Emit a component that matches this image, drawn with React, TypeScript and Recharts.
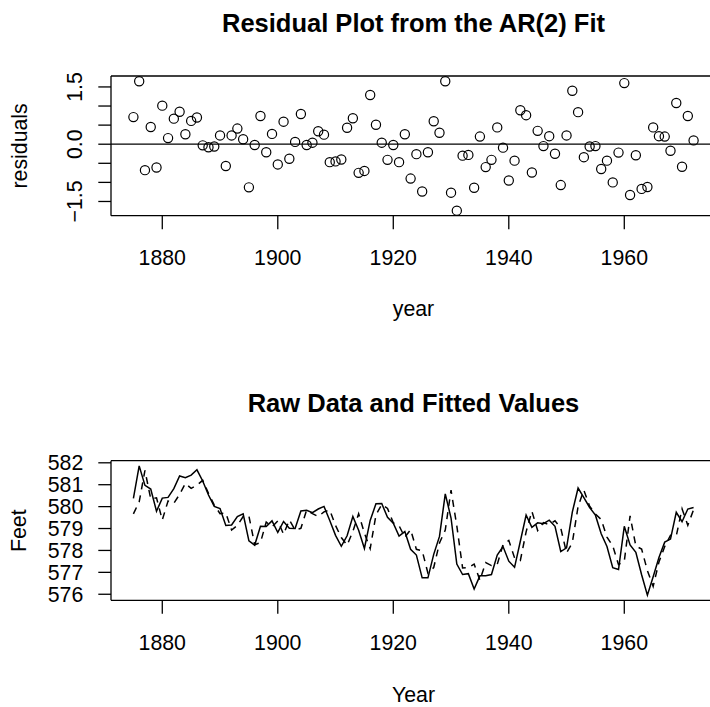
import React from 'react';
import { ScatterChart, Scatter, LineChart, Line, XAxis, YAxis, ReferenceLine, Label } from 'recharts';

// Lake Huron levels 1875-1972, residuals of the AR(2) fit and the fitted values
const years = [
  1875, 1876, 1877, 1878, 1879, 1880, 1881, 1882, 1883, 1884, 1885, 1886, 1887, 1888, 1889,
  1890, 1891, 1892, 1893, 1894, 1895, 1896, 1897, 1898, 1899, 1900, 1901, 1902, 1903, 1904,
  1905, 1906, 1907, 1908, 1909, 1910, 1911, 1912, 1913, 1914, 1915, 1916, 1917, 1918, 1919,
  1920, 1921, 1922, 1923, 1924, 1925, 1926, 1927, 1928, 1929, 1930, 1931, 1932, 1933, 1934,
  1935, 1936, 1937, 1938, 1939, 1940, 1941, 1942, 1943, 1944, 1945, 1946, 1947, 1948, 1949,
  1950, 1951, 1952, 1953, 1954, 1955, 1956, 1957, 1958, 1959, 1960, 1961, 1962, 1963, 1964,
  1965, 1966, 1967, 1968, 1969, 1970, 1971, 1972,
];

const lakeLevel = [
  580.38, 581.86, 580.97, 580.8, 579.79, 580.39, 580.42, 580.82, 581.4, 581.32, 581.44, 581.68, 581.17, 580.53, 580.01,
  579.91, 579.14, 579.16, 579.55, 579.67, 578.44, 578.24, 579.1, 579.09, 579.35, 578.82, 579.32, 579.01, 579.0, 579.8,
  579.83, 579.72, 579.89, 580.01, 579.37, 578.69, 578.19, 578.67, 579.55, 578.92, 578.09, 579.37, 580.13, 580.14, 579.51,
  579.24, 578.66, 578.86, 578.05, 577.79, 576.75, 576.75, 577.82, 578.64, 580.58, 579.48, 577.38, 576.9, 576.94, 576.24,
  576.84, 576.85, 576.9, 577.79, 578.18, 577.51, 577.23, 578.42, 579.61, 579.05, 579.26, 579.22, 579.38, 579.1, 577.95,
  578.12, 579.75, 580.85, 580.41, 579.96, 579.61, 578.76, 578.18, 577.21, 577.13, 579.1, 578.25, 577.91, 576.89, 575.96,
  576.8, 577.68, 578.38, 578.52, 579.74, 579.31, 579.89, 579.96,
];

const residuals = [
  0.71, 1.65, -0.68, 0.45, -0.61, 1.01, 0.16, 0.67, 0.85, 0.26, 0.61, 0.7, -0.03, -0.08, -0.06,
  0.23, -0.57, 0.23, 0.41, 0.13, -1.13, -0.02, 0.74, -0.21, 0.27, -0.53, 0.59, -0.38, 0.06, 0.79,
  -0.02, 0.04, 0.34, 0.25, -0.47, -0.45, -0.4, 0.43, 0.68, -0.75, -0.7, 1.29, 0.51, 0.04, -0.41,
  -0.02, -0.47, 0.26, -0.9, -0.26, -1.24, -0.21, 0.6, 0.3, 1.65, -1.27, -1.74, -0.3, -0.28, -1.14,
  0.2, -0.6, -0.41, 0.44, -0.09, -0.95, -0.43, 0.89, 0.76, -0.74, 0.35, -0.05, 0.21, -0.25, -1.07,
  0.23, 1.4, 0.84, -0.34, -0.06, -0.05, -0.65, -0.43, -1.0, -0.22, 1.6, -1.33, -0.29, -1.17, -1.12,
  0.44, 0.21, 0.2, -0.17, 1.08, -0.59, 0.74, 0.1,
];

const fittedLevel = [
  579.67, 580.22, 581.65, 580.35, 580.4, 579.39, 580.26, 580.15, 580.56, 581.06, 580.83, 580.98, 581.2, 580.61, 580.07,
  579.68, 579.71, 578.93, 579.14, 579.55, 579.57, 578.26, 578.36, 579.3, 579.08, 579.35, 578.74, 579.39, 578.94, 579.01,
  579.85, 579.68, 579.55, 579.76, 579.84, 579.14, 578.59, 578.24, 578.87, 579.67, 578.79, 578.08, 579.62, 580.1, 579.92,
  579.26, 579.13, 578.6, 578.95, 578.05, 577.99, 576.96, 577.22, 578.34, 578.93, 580.75, 579.12, 577.2, 577.22, 577.38,
  576.64, 577.45, 577.31, 577.36, 578.27, 578.46, 577.66, 577.54, 578.85, 579.79, 578.91, 579.27, 579.18, 579.35, 579.02,
  577.89, 578.35, 580.01, 580.75, 580.02, 579.66, 579.41, 578.61, 578.21, 577.35, 577.51, 579.58, 578.2, 578.06, 577.08,
  576.36, 577.47, 578.18, 578.69, 578.66, 579.9, 579.15, 579.86,
];

const yearTicks = [1880, 1900, 1920, 1940, 1960];
const residTicks = [-1.5, -1, -0.5, 0, 0.5, 1, 1.5];
const residTickLabels = ['\u22121.5', '', '', '0.0', '', '', '1.5'];
const feetTicks = [576, 577, 578, 579, 580, 581, 582];

const FONT = '"Liberation Sans", Arial, Helvetica, sans-serif';
const AXIS_FS = 21.3;
const TITLE_FS = 25.5;
const PLOT_CX = 413.5;
const YEAR_DOMAIN = [1871.12, 1975.88];
const RESID_DOMAIN = [-1.8725, 1.7865];
const FEET_DOMAIN = [575.724, 582.096];

const residData = years.map((year, i) => ({ year, resid: residuals[i] }));
const levelData = years.map((year, i) => ({ year, raw: lakeLevel[i], fitted: fittedLevel[i] }));

const xTick = { fill: '#000', fontSize: AXIS_FS, fontFamily: FONT };
const tickLine = { stroke: '#000', strokeWidth: 1.3 };

const ResidTick = (props: any) => {
  const { y, payload } = props;
  const label = residTickLabels[residTicks.indexOf(payload.value)];
  if (!label) return <g />;
  return (
    <text
      x={81.7}
      y={y}
      transform={`rotate(-90, 81.7, ${y})`}
      textAnchor="middle"
      fill="#000"
      fontSize={AXIS_FS}
      fontFamily={FONT}
    >
      {label}
    </text>
  );
};

const Circle = (props: any) => (
  <circle cx={props.cx} cy={props.cy} r={4.6} fill="none" stroke="#000" strokeWidth={1.2} />
);

const title = (text: string, y: number) => () => (
  <text x={PLOT_CX} y={y} textAnchor="middle" fontSize={TITLE_FS} fontWeight="bold" fontFamily={FONT} fill="#000">
    {text}
  </text>
);

const xTitle = (text: string, y: number) => () => (
  <text x={PLOT_CX} y={y} textAnchor="middle" fontSize={AXIS_FS} fontFamily={FONT} fill="#000">
    {text}
  </text>
);

const yTitle = (text: string, x: number, y: number) => () => (
  <text x={x} y={y} transform={`rotate(-90, ${x}, ${y})`} textAnchor="middle" fontSize={AXIS_FS} fontFamily={FONT} fill="#000">
    {text}
  </text>
);

export default function App() {
  return (
    <div style={{ position: 'absolute', left: 0, top: 0, width: 710, height: 707, overflow: 'hidden', background: '#fff' }}>
      <div style={{ position: 'absolute', left: 0, top: 0 }}>
        <ScatterChart width={730} height={340} margin={{ top: 76, right: 14, bottom: 0, left: 0 }}>
          <XAxis
            dataKey="year"
            type="number"
            domain={YEAR_DOMAIN}
            allowDataOverflow
            ticks={yearTicks}
            interval={0}
            height={124.3}
            tickSize={13.5}
            tickMargin={20.7}
            stroke="#000"
            strokeWidth={1.3}
            tick={xTick}
            tickLine={tickLine}
          >
            <Label content={xTitle('year', 315.5)} />
          </XAxis>
          <YAxis
            dataKey="resid"
            type="number"
            domain={RESID_DOMAIN}
            allowDataOverflow
            ticks={residTicks}
            interval={0}
            width={111}
            tickSize={12.7}
            stroke="#000"
            strokeWidth={1.3}
            tick={ResidTick}
            tickLine={tickLine}
          >
            <Label content={yTitle('residuals', 26.7, 145.9)} />
          </YAxis>
          {/* top edge of the plot box, carries the panel title */}
          <ReferenceLine y={RESID_DOMAIN[1]} stroke="#000" strokeWidth={1.3}>
            <Label content={title('Residual Plot from the AR(2) Fit', 31.6)} />
          </ReferenceLine>
          <ReferenceLine y={0} stroke="#000" strokeWidth={1.3} />
          <Scatter data={residData} dataKey="resid" shape={Circle} isAnimationActive={false} />
        </ScatterChart>
      </div>
      <div style={{ position: 'absolute', left: 0, top: 350 }}>
        <LineChart width={730} height={357} data={levelData} margin={{ top: 110.7, right: 14, bottom: 0, left: 0 }}>
          <XAxis
            dataKey="year"
            type="number"
            domain={YEAR_DOMAIN}
            allowDataOverflow
            ticks={yearTicks}
            interval={0}
            height={106.7}
            tickSize={13.5}
            tickMargin={20.7}
            stroke="#000"
            strokeWidth={1.3}
            tick={xTick}
            tickLine={tickLine}
          >
            <Label content={xTitle('Year', 351.5)} />
          </XAxis>
          <YAxis
            type="number"
            domain={FEET_DOMAIN}
            allowDataOverflow
            ticks={feetTicks}
            interval={0}
            width={111}
            tickSize={12.7}
            tickMargin={15}
            stroke="#000"
            strokeWidth={1.3}
            tick={xTick}
            tickLine={tickLine}
          >
            <Label content={yTitle('Feet', 26, 180.7)} />
          </YAxis>
          <ReferenceLine y={FEET_DOMAIN[1]} stroke="#000" strokeWidth={1.3}>
            <Label content={title('Raw Data and Fitted Values', 61.6)} />
          </ReferenceLine>
          <Line type="linear" dataKey="raw" stroke="#000" strokeWidth={1.5} dot={false} isAnimationActive={false} />
          <Line
            type="linear"
            dataKey="fitted"
            stroke="#000"
            strokeWidth={1.5}
            strokeDasharray="7 6"
            dot={false}
            isAnimationActive={false}
          />
        </LineChart>
      </div>
    </div>
  );
}
